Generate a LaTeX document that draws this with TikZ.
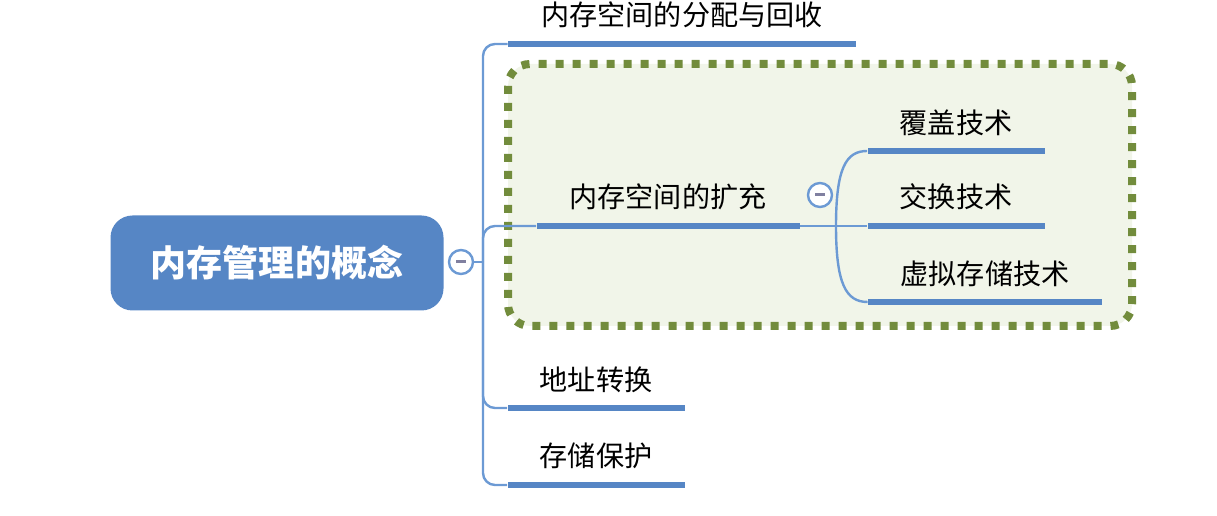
\documentclass[tikz,border=0pt]{standalone}
\usepackage{fontspec}
\setmainfont{Noto Sans CJK SC}
\usetikzlibrary{positioning,calc}
\definecolor{mapblue}{RGB}{86,134,197}
\definecolor{linkblue}{RGB}{108,154,212}
\definecolor{boxgreen}{RGB}{241,245,233}
\definecolor{dotgreen}{RGB}{114,140,60}
\definecolor{minusgray}{RGB}{128,128,160}
\newcommand{\pw}{0.02cm}

\begin{document}
\begin{tikzpicture}[x=0.02cm,y=-0.02cm,
    bar/.style={fill=mapblue,inner sep=0pt,minimum height=6*\pw},
    topic/.style={font=\fontsize{16}{18}\selectfont,inner sep=0pt},
    link/.style={linkblue,line width=2.4*\pw},
    fold/.style={circle,draw=linkblue,fill=white,line width=2.4*\pw,
        minimum size=24*\pw,inner sep=0pt,
        path picture={\draw[minusgray,line width=3*\pw]
            ([xshift=-5*\pw]path picture bounding box.center) --
            ([xshift=5*\pw]path picture bounding box.center);}}]
    \useasboundingbox (0,0) rectangle (1217,516);
    % grouped part
    \draw[dotgreen,fill=boxgreen,line width=8*\pw,rounded corners=22*\pw,
        dash pattern=on 8*\pw off 9*\pw] (508,64) rectangle (1132,326);
    % root
    \node[fill=mapblue,rounded corners=22*\pw,minimum width=333*\pw,
        minimum height=95*\pw,text=white,
        font=\fontsize{20.5}{24}\selectfont\bfseries] (root) at (277,263) {内存管理的概念};
    \node[fold] (rootfold) at (461,262) {};
    \coordinate (fork) at (483,262);
    % main topics
    \node[bar,minimum width=348*\pw] (alloc) at (682,44) {};
    \node[bar,minimum width=263*\pw] (ext) at (668,226) {};
    \node[bar,minimum width=177*\pw] (addr) at (596,408) {};
    \node[bar,minimum width=177*\pw] (prot) at (596,485) {};
    \node[topic,above=12*\pw of alloc] {内存空间的分配与回收};
    \node[topic,above=12*\pw of ext] {内存空间的扩充};
    \node[topic,above=12*\pw of addr] {地址转换};
    \node[topic,above=12*\pw of prot] {存储保护};
    \node[fold] (extfold) at (820,195) {};
    % sub topics
    \node[bar,minimum width=177*\pw] (overlay) at (956,151) {};
    \node[bar,minimum width=177*\pw] (swap) at (956,226) {};
    \node[bar,minimum width=234*\pw] (virt) at (985,302) {};
    \node[topic,above=12*\pw of overlay] {覆盖技术};
    \node[topic,above=12*\pw of swap] {交换技术};
    \node[topic,above=12*\pw of virt] {虚拟存储技术};
    \coordinate (subfork) at (836,226);
    % connectors
    \draw[link] (rootfold.east) -- (fork);
    \draw[link,rounded corners=12*\pw] (fork) |- (alloc.west);
    \draw[link,rounded corners=12*\pw] (fork) |- (ext.west);
    \draw[link,rounded corners=12*\pw] (fork) |- (addr.west);
    \draw[link,rounded corners=12*\pw] (fork) |- (prot.west);
    \draw[link] (ext.east) -- (subfork) -- (swap.west);
    \draw[link] (subfork) .. controls (836,168) and (846,151) .. (overlay.west);
    \draw[link] (subfork) .. controls (836,284) and (846,302) .. (virt.west);
\end{tikzpicture}
\end{document}
